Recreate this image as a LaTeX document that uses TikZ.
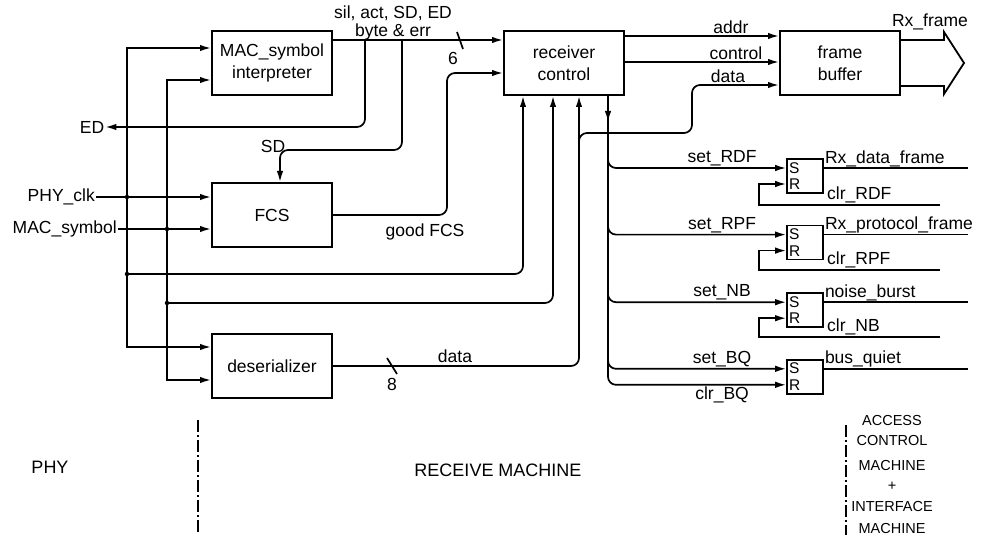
\documentclass[tikz,border=0pt]{standalone}
\usepackage{fontspec}
\setmainfont{Liberation Sans}
\usetikzlibrary{arrows.meta, positioning}

\begin{document}
\begin{tikzpicture}[
    x=1pt, y=-1pt,
    font=\fontsize{17.5}{18}\selectfont,
    block/.style = {draw, line width=2pt, align=center, inner sep=2pt,
                    minimum width=120pt, minimum height=64pt,
                    font=\fontsize{17.5}{22}\selectfont},
    srff/.style  = {draw, line width=1.6pt, align=left, text width=32pt,
                    minimum height=34pt, inner sep=2pt,
                    font=\fontsize{15.5}{16.5}\selectfont},
    arrow/.style = {-{Latex[length=11pt, width=6.5pt]}, line width=1.7pt},
    wire/.style  = {line width=1.7pt},
    rnd/.style   = {rounded corners=8pt},
    jdot/.style  = {circle, fill, inner sep=0pt, minimum size=4.5pt},
    zone/.style  = {line width=1.3pt, dash pattern=on 12pt off 3pt on 2pt off 3pt},
    lbl/.style   = {inner sep=1pt},
    region/.style= {inner sep=0pt, align=center, font=\fontsize{14.5}{20}\selectfont}
]
\useasboundingbox (0,0) rectangle (982,540);

%% ── Main blocks ─────────────────────────────────────────────────────────────
\node[block] (msi) at (272,63)  {MAC\_symbol\\interpreter};
\node[block] (rc)  at (564,63)  {receiver\\control};
\node[block] (fb)  at (840,63)  {frame\\buffer};
\node[block] (fcs) at (272,215) {FCS};
\node[block] (des) at (272,366) {deserializer};

%% ── Inputs from the PHY ─────────────────────────────────────────────────────
\node[lbl, anchor=east] (phyclk) at (96,197)  {PHY\_clk};
\node[lbl, anchor=east] (macsym) at (118,229) {MAC\_symbol};
\coordinate (clk)   at (127,197);
\coordinate (sym)   at (167,229);
\coordinate (clkrc) at (127,274);
\coordinate (symrc) at (167,303);
\draw[arrow] (phyclk.east) -- (fcs.west |- phyclk.east);
\draw[arrow] (macsym.east) -- (fcs.west |- macsym.east);
\draw[arrow] (clk) |- (msi.west |- 0,48);
\draw[arrow] (clk) |- (des.west |- 0,347);
\draw[arrow] (sym) |- (msi.west |- 0,80);
\draw[arrow] (sym) |- (des.west |- 0,380);
\draw[arrow, rnd] (clkrc) -| (rc.south -| 523,0);
\draw[arrow, rnd] (symrc) -| (rc.south -| 553,0);
\node[jdot] (j1) at (clk) {};
\node[jdot] (j2) at (sym) {};
\node[jdot] (j3) at (clkrc) {};
\node[jdot] (j4) at (symrc) {};

%% ── Interpreter outputs ─────────────────────────────────────────────────────
\coordinate (edtap) at (365,40);
\coordinate (sdtap) at (402,40);
\draw[arrow] (msi.east |- 0,40) -- (rc.west |- 0,40);
\node[lbl, align=center] (bus) at (393,23) {sil, act, SD, ED\\byte \& err};
\draw[wire] (457,32) -- (463,49);
\node[lbl] (w6) at (453,58) {6};
\node[lbl] (ed) at (92,127) {ED};
\draw[arrow, rnd] (edtap) |- (ed.east);
\node[lbl] (sd) at (273,146) {SD};
\draw[arrow, rnd] (sdtap) |- (280,150) -- (fcs.north -| 280,0);

%% ── FCS and deserializer outputs ────────────────────────────────────────────
\draw[arrow, rnd] (fcs.east) -- (447,215) -- (447,73) -- (rc.west |- 0,73);
\node[lbl] (gfcs) at (425,232) {good FCS};
\draw[arrow, rnd] (des.east) -| (rc.south -| 579,0);
\draw[wire] (387,358) -- (397,374);
\node[lbl] (w8) at (392,384) {8};
\node[lbl] (ddata) at (455,356) {data};

%% ── Receiver control to frame buffer ────────────────────────────────────────
\draw[arrow] (rc.east |- 0,36) -- (fb.west |- 0,36);
\draw[arrow] (rc.east |- 0,62) -- (fb.west |- 0,62);
\coordinate (dtap) at (579,150);
\draw[arrow, rnd] (dtap) |- (692,133) |- (fb.west |- 0,85);
\node[lbl, anchor=base] (laddr) at (731,34) {addr};
\node[lbl, anchor=base] (lctl)  at (736,60) {control};
\node[lbl, anchor=base] (ldata) at (728,83) {data};

\draw[line width=1.8pt] (fb.east |- 0,40) -- (944,40) -- (944,32) -- (964,63)
    -- (944,94) -- (944,86) -- (fb.east |- 0,86);
\node[lbl] (rxf) at (930,22) {Rx\_frame};

%% ── Status flip-flops ───────────────────────────────────────────────────────
\node[srff] (sr1) at (805,176) {S\\R};
\node[srff, below=31pt of sr1] (sr2) {S\\R};
\node[srff, below=32pt of sr2] (sr3) {S\\R};
\node[srff, below=31pt of sr3] (sr4) {S\\R};

\coordinate (rcout) at (rc.south -| 608,0);
\draw[arrow] (rcout) -- (608,122);
\draw[arrow, rnd] (rcout) |- ([yshift=8pt]sr1.west)
    node[lbl, pos=0.82, above] (lset1) {set\_RDF};
\draw[arrow, rnd] (rcout) |- ([yshift=8pt]sr2.west)
    node[lbl, pos=0.82, above] (lset2) {set\_RPF};
\draw[arrow, rnd] (rcout) |- ([yshift=8pt]sr3.west)
    node[lbl, pos=0.82, above] (lset3) {set\_NB};
\draw[arrow, rnd] (rcout) |- ([yshift=8pt]sr4.west)
    node[lbl, pos=0.82, above] (lset4) {set\_BQ};
\draw[arrow, rnd] (rcout) |- ([yshift=-8pt]sr4.west)
    node[lbl, pos=0.82, below] (lclr4) {clr\_BQ};

%% clear lines coming back from the access control machine
\coordinate (clr1) at (940,205);
\coordinate (clr2) at (940,270);
\coordinate (clr3) at (940,337);
\draw[arrow] (clr1) -- (759,205) |- ([yshift=-8pt]sr1.west);
\draw[arrow] (clr2) -- (759,270) |- ([yshift=-8pt]sr2.west);
\draw[arrow] (clr3) -- (759,337) |- ([yshift=-8pt]sr3.west);
\node[lbl, anchor=south west] (lclr1) at (826,204) {clr\_RDF};
\node[lbl, anchor=south west] (lclr2) at (826,269) {clr\_RPF};
\node[lbl, anchor=south west] (lclr3) at (826,336) {clr\_NB};

%% flip-flop outputs
\draw[wire] ([yshift=8pt]sr1.east) -- ++(144,0) coordinate (o1);
\draw[wire] ([yshift=8pt]sr2.east) -- ++(144,0) coordinate (o2);
\draw[wire] ([yshift=8pt]sr3.east) -- ++(144,0) coordinate (o3);
\draw[wire] ([yshift=8pt]sr4.east) -- ++(144,0) coordinate (o4);
\node[lbl, anchor=south west] (lout1) at ([yshift=8pt]sr1.east) {Rx\_data\_frame};
\node[lbl, anchor=south west] (lout2) at ([yshift=8pt]sr2.east) {Rx\_protocol\_frame};
\node[lbl, anchor=south west] (lout3) at ([yshift=8pt]sr3.east) {noise\_burst};
\node[lbl, anchor=south west] (lout4) at ([yshift=8pt]sr4.east) {bus\_quiet};

%% ── Partition ───────────────────────────────────────────────────────────────
\node[region, font=\fontsize{18}{20}\selectfont] (phy) at (50,467) {PHY};
\node[region, font=\fontsize{18}{20}\selectfont] (rxm) at (498,470) {RECEIVE MACHINE};
\node[region, anchor=north] (acm) at (892,415)
    {ACCESS\\CONTROL\\[5pt]MACHINE\\+\\[1pt]INTERFACE\\[2pt]MACHINE};
\draw[zone] (198,420) -- (198,533);
\draw[zone] (846,425) -- (846,535);

\end{tikzpicture}
\end{document}
